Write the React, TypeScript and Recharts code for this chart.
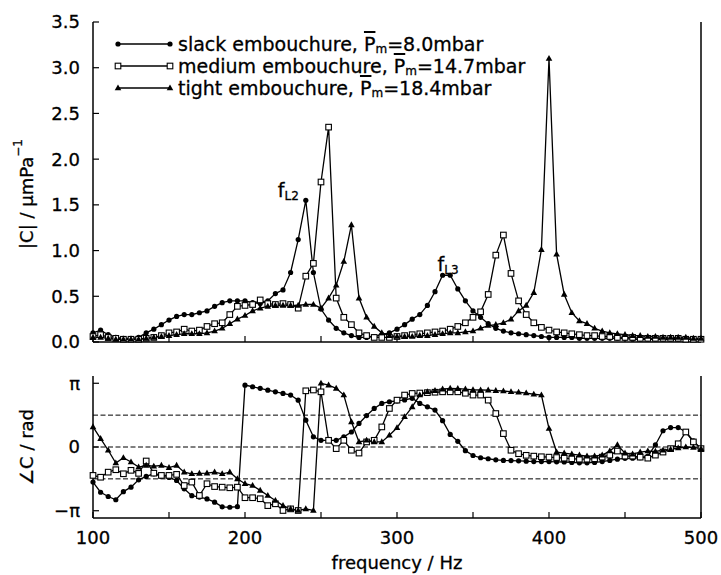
import React from 'react';
import { LineChart, Line, XAxis, YAxis, ReferenceLine, ReferenceDot, Legend, Label } from 'recharts';

// ---------- data ----------
const frequencies = [
  100, 105, 110, 115, 120, 125, 130, 135, 140, 145,
  150, 155, 160, 165, 170, 175, 180, 185, 190, 195,
  200, 205, 210, 215, 220, 225, 230, 235, 240, 245,
  250, 255, 260, 265, 270, 275, 280, 285, 290, 295,
  300, 305, 310, 315, 320, 325, 330, 335, 340, 345,
  350, 355, 360, 365, 370, 375, 380, 385, 390, 395,
  400, 405, 410, 415, 420, 425, 430, 435, 440, 445,
  450, 455, 460, 465, 470, 475, 480, 485, 490, 495,
  500,
];

const slackMag = [
  0.10, 0.13, 0.08, 0.05, 0.04, 0.04, 0.05, 0.10, 0.14, 0.19,
  0.24, 0.28, 0.30, 0.30, 0.32, 0.34, 0.39, 0.43, 0.45, 0.45,
  0.45, 0.43, 0.42, 0.45, 0.53, 0.57, 0.76, 1.12, 1.55, 0.76,
  0.36, 0.24, 0.15, 0.10, 0.07, 0.05, 0.05, 0.06, 0.08, 0.10,
  0.14, 0.19, 0.25, 0.30, 0.40, 0.55, 0.73, 0.73, 0.58, 0.45,
  0.34, 0.27, 0.20, 0.15, 0.12, 0.10, 0.09, 0.08, 0.07, 0.06,
  0.05, 0.05, 0.05, 0.05, 0.04, 0.04, 0.04, 0.04, 0.04, 0.04,
  0.04, 0.03, 0.03, 0.03, 0.03, 0.03, 0.03, 0.03, 0.03, 0.03,
  0.03,
];

const mediumMag = [
  0.06, 0.08, 0.05, 0.04, 0.03, 0.03, 0.03, 0.04, 0.05, 0.07,
  0.10, 0.11, 0.14, 0.12, 0.13, 0.17, 0.20, 0.21, 0.30, 0.39,
  0.40, 0.41, 0.46, 0.42, 0.41, 0.42, 0.41, 0.37, 0.72, 0.86,
  1.75, 2.35, 0.48, 0.27, 0.19, 0.10, 0.07, 0.05, 0.05, 0.05,
  0.06, 0.07, 0.08, 0.09, 0.10, 0.11, 0.12, 0.14, 0.17, 0.21,
  0.27, 0.33, 0.52, 0.95, 1.17, 0.75, 0.45, 0.30, 0.21, 0.16,
  0.13, 0.11, 0.10, 0.09, 0.08, 0.07, 0.07, 0.06, 0.06, 0.05,
  0.05, 0.05, 0.04, 0.04, 0.04, 0.04, 0.04, 0.04, 0.03, 0.03,
  0.03,
];

const tightMag = [
  0.05, 0.05, 0.04, 0.03, 0.03, 0.03, 0.03, 0.04, 0.05, 0.06,
  0.07, 0.08, 0.09, 0.09, 0.09, 0.10, 0.12, 0.15, 0.20, 0.25,
  0.29, 0.34, 0.37, 0.39, 0.40, 0.40, 0.40, 0.40, 0.41, 0.41,
  0.37, 0.48, 0.62, 0.88, 1.28, 0.48, 0.27, 0.17, 0.10, 0.07,
  0.06, 0.06, 0.06, 0.07, 0.07, 0.08, 0.09, 0.10, 0.10, 0.11,
  0.12, 0.15, 0.18, 0.19, 0.21, 0.25, 0.34, 0.40, 0.54, 1.01,
  3.10, 0.96, 0.52, 0.32, 0.23, 0.20, 0.15, 0.12, 0.10, 0.09,
  0.08, 0.07, 0.07, 0.06, 0.06, 0.05, 0.05, 0.05, 0.05, 0.04,
  0.04,
];

const slackPhase = [
  -1.73, -2.23, -2.44, -2.60, -2.20, -1.98, -1.62, -1.45, -1.32, -1.45,
  -1.50, -1.65, -2.06, -2.40, -2.47, -2.56, -2.72, -2.95, -2.97, -2.94,
  3.05, 2.97, 2.89, 2.80, 2.72, 2.64, 2.56, 2.31, 1.32, 0.50,
  0.33, 0.33, 0.33, 0.50, 0.74, 1.16, 1.55, 1.90, 2.15, 2.23,
  2.27, 2.32, 2.40, 2.15, 1.98, 1.82, 1.30, 0.62, 0.28, -0.18,
  -0.42, -0.53, -0.58, -0.63, -0.66, -0.67, -0.68, -0.70, -0.72, -0.72,
  -0.72, -0.73, -0.74, -0.76, -0.78, -0.78, -0.76, -0.72, -0.66, -0.60,
  -0.56, -0.55, -0.53, -0.45, 0.10, 0.80, 0.96, 0.96, 0.74, 0.30,
  -0.08,
];

const mediumPhase = [
  -1.40, -1.49, -1.24, -1.12, -1.32, -1.15, -1.30, -0.69, -1.29, -1.40,
  -1.40, -1.35, -1.90, -1.73, -2.39, -1.81, -1.95, -1.98, -2.01, -1.98,
  -2.50, -2.50, -2.55, -2.89, -2.80, -3.13, -3.05, -3.13, 2.77, 2.81,
  2.72, 0.33, -0.08, 0.33, -0.16, -0.30, 0.25, 0.33, 0.99, 1.90,
  2.31, 2.56, 2.64, 2.66, 2.68, 2.70, 2.72, 2.72, 2.72, 2.65,
  2.56, 2.56, 2.31, 1.65, 0.66, -0.16, -0.33, -0.41, -0.45, -0.48,
  -0.50, -0.52, -0.55, -0.58, -0.60, -0.60, -0.58, -0.50, -0.40, -0.20,
  -0.45, -0.45, -0.50, -0.55, -0.40, -0.25, -0.08, 0.16, 0.74, 0.25,
  -0.08,
];

const tightPhase = [
  0.99, 0.41, -0.16, -0.79, -0.53, -0.74, -0.99, -0.91, -0.95, -0.91,
  -1.02, -0.91, -1.24, -1.32, -1.30, -1.29, -1.24, -1.32, -1.24, -1.57,
  -1.81, -1.90, -2.14, -2.39, -2.64, -2.89, -3.05, -3.13, -3.05, -3.13,
  3.14, 3.05, 2.89, 2.56, 1.24, 0.25, 0.33, 0.25, 0.25, 0.58,
  0.95, 1.49, 1.98, 2.56, 2.72, 2.78, 2.85, 2.89, 2.88, 2.85,
  2.82, 2.81, 2.80, 2.78, 2.76, 2.72, 2.70, 2.66, 2.60, 2.56,
  0.91, -0.25, -0.30, -0.35, -0.40, -0.45, -0.45, -0.40, -0.20, 0.10,
  -0.30, -0.35, -0.25, -0.20, -0.22, -0.16, -0.12, -0.05, 0.00, -0.02,
  -0.08,
];

const seriesKeys = ['slack', 'medium', 'tight'];
const seriesNames = ['slack embouchure', 'medium embouchure', 'tight embouchure'];
const seriesPressures = ['8.0', '14.7', '18.4'];

const freqTicks = [100, 150, 200, 250, 300, 350, 400, 450, 500];
const magTicks = [0, 0.5, 1.0, 1.5, 2.0, 2.5, 3.0, 3.5];
const phaseTicks = [-Math.PI, 0, Math.PI];
const phaseGrid = [-Math.PI / 2, 0, Math.PI / 2];

const peakLabels = [
  { f: 240, v: 1.55, sub: 'L2', dx: -28, dy: -3 },
  { f: 330, v: 0.73, sub: 'L3', dx: -5, dy: -4 },
];

const magData = frequencies.map((f, i) => ({
  f,
  slack: slackMag[i],
  medium: mediumMag[i],
  tight: tightMag[i],
}));
const phaseData = frequencies.map((f, i) => ({
  f,
  slack: slackPhase[i],
  medium: mediumPhase[i],
  tight: tightPhase[i],
}));

// ---------- styling helpers ----------
const FONT = 'DejaVu Sans';
const tickFont = { fill: '#000', fontSize: 18, fontFamily: FONT, stroke: '#000', strokeWidth: 0.3 };

const NoTick = () => <g />;

const markerShape = (key: string, cx: number, cy: number, k: any) => {
  if (key === 'slack') return <circle key={k} cx={cx} cy={cy} r={2.6} fill="#000" />;
  if (key === 'medium')
    return (
      <rect key={k} x={cx - 2.8} y={cy - 2.8} width={5.6} height={5.6} fill="#fff" stroke="#000" strokeWidth={1.1} />
    );
  return (
    <polygon
      key={k}
      points={`${cx},${cy - 3.6} ${cx - 3.3},${cy + 2.3} ${cx + 3.3},${cy + 2.3}`}
      fill="#000"
    />
  );
};

const makeDot = (key: string) => (p: any) => {
  if (p.cx == null || p.cy == null) return <g key={`d-${key}-${p.index}`} />;
  return markerShape(key, p.cx, p.cy, `d-${key}-${p.index}`);
};

const LegendContent = (props: any) => {
  const payload = [...(props.payload || [])].sort(
    (a: any, b: any) => seriesKeys.indexOf(a.dataKey) - seriesKeys.indexOf(b.dataKey)
  );
  return (
    <div style={{ fontFamily: FONT, fontSize: 19, color: '#000', WebkitTextStroke: '0.3px #000' }}>
      {payload.map((item: any, i: number) => {
        const idx = seriesKeys.indexOf(item.dataKey);
        return (
          <div
            key={i}
            style={{ display: 'flex', alignItems: 'center', height: 22, lineHeight: '22px', whiteSpace: 'nowrap' }}
          >
            <svg width={64} height={12} style={{ display: 'block', flex: 'none' }}>
              <line x1={4} x2={56} y1={6} y2={6} stroke="#000" strokeWidth={1.3} />
              {markerShape(item.dataKey, 4, 6, 'a')}
              {markerShape(item.dataKey, 56, 6, 'b')}
            </svg>
            <span>
              {seriesNames[idx]},{' '}
              <span style={{ textDecoration: 'overline', textDecorationThickness: '1.5px' }}>P</span>
              <span
                style={{
                  fontSize: 12,
                  lineHeight: '8px',
                  display: 'inline-block',
                  position: 'relative',
                  top: 2,
                }}
              >
                m
              </span>
              ={seriesPressures[idx]}mbar
            </span>
          </div>
        );
      })}
    </div>
  );
};

const PeakLabel = (dx: number, dy: number, sub: string) => (props: any) => {
  const vb = props.viewBox || {};
  const x = (vb.x || 0) + (vb.width || 0) / 2 + dx;
  const y = (vb.y || 0) + (vb.height || 0) / 2 + dy;
  return (
    <text x={x} y={y} fontFamily={FONT} fontSize={19} fill="#000" stroke="#000" strokeWidth={0.3}>
      f
      <tspan fontSize={12} dy={3} fill="#000">
        {sub}
      </tspan>
    </text>
  );
};

const TopYLabel = (props: any) => {
  const vb = props.viewBox || {};
  const cx = 26;
  const cy = (vb.y || 0) + (vb.height || 0) / 2 + 12;
  return (
    <text
      x={cx}
      y={cy}
      transform={`rotate(-90 ${cx} ${cy})`}
      textAnchor="middle"
      dominantBaseline="central"
      fontFamily={FONT}
      fontSize={18}
      fill="#000"
      stroke="#000"
      strokeWidth={0.3}
    >
      |C| / µmPa
      <tspan fontSize={12} dy={-8}>
        −1
      </tspan>
    </text>
  );
};

const BottomYLabel = (props: any) => {
  const vb = props.viewBox || {};
  const cx = 26;
  const cy = (vb.y || 0) + (vb.height || 0) / 2;
  return (
    <text
      x={cx}
      y={cy}
      transform={`rotate(-90 ${cx} ${cy})`}
      textAnchor="middle"
      dominantBaseline="central"
      fontFamily={FONT}
      fontSize={18}
      fill="#000"
      stroke="#000"
      strokeWidth={0.3}
    >
      ∠C / rad
    </text>
  );
};

const XLabel = (props: any) => {
  const vb = props.viewBox || {};
  const cx = (vb.x || 0) + (vb.width || 0) / 2;
  return (
    <text
      x={cx}
      y={(vb.y || 0) + 51}
      textAnchor="middle"
      fontFamily={FONT}
      fontSize={18}
      fill="#000"
      stroke="#000"
      strokeWidth={0.3}
    >
      frequency / Hz
    </text>
  );
};

const axisLine = { stroke: '#000', strokeWidth: 1.5 };
const tickLine = { stroke: '#000', strokeWidth: 1.2 };

const phaseFmt = (v: number) => (v > 0.1 ? 'π' : v < -0.1 ? '−π' : '0');

export default function App() {
  return (
    <div style={{ position: 'absolute', left: 0, top: 0, width: 721, height: 575, background: '#fff' }}>
      <div style={{ position: 'absolute', left: 0, top: 0 }}>
        <LineChart width={721} height={362} data={magData} margin={{ top: 22, right: 0, bottom: 0, left: 0 }}>
          <XAxis
            xAxisId="b"
            dataKey="f"
            type="number"
            domain={[100, 500]}
            ticks={freqTicks}
            interval={0}
            orientation="bottom"
            height={20}
            tickSize={-6}
            tick={NoTick}
            axisLine={axisLine}
            tickLine={tickLine}
          />
          <XAxis
            xAxisId="t"
            dataKey="f"
            type="number"
            domain={[100, 500]}
            ticks={freqTicks}
            interval={0}
            orientation="top"
            height={0}
            tickSize={-6}
            tick={NoTick}
            axisLine={axisLine}
            tickLine={tickLine}
          />
          <YAxis
            yAxisId="l"
            type="number"
            domain={[0, 3.5]}
            ticks={magTicks}
            interval={0}
            width={93}
            tickSize={-6}
            tickMargin={19}
            tick={tickFont}
            tickFormatter={(v: number) => v.toFixed(1)}
            axisLine={axisLine}
            tickLine={tickLine}
          >
            <Label content={TopYLabel} />
          </YAxis>
          <YAxis
            yAxisId="r"
            orientation="right"
            type="number"
            domain={[0, 3.5]}
            ticks={magTicks}
            interval={0}
            width={20}
            tickSize={-6}
            tick={NoTick}
            axisLine={axisLine}
            tickLine={tickLine}
          />
          <Legend
            layout="vertical"
            align="center"
            verticalAlign="middle"
            content={LegendContent}
            wrapperStyle={{ position: 'absolute', left: 114, top: 33, width: 'auto', height: 'auto' }}
          />
          {seriesKeys.map((k, i) => (
            <Line
              key={k}
              xAxisId="b"
              yAxisId="l"
              dataKey={k}
              name={seriesNames[i]}
              stroke="#000"
              strokeWidth={1.3}
              dot={makeDot(k)}
              activeDot={false}
              isAnimationActive={false}
            />
          ))}
          {peakLabels.map((p, i) => (
            <ReferenceDot
              key={i}
              xAxisId="b"
              yAxisId="l"
              x={p.f}
              y={p.v}
              r={0}
              fill="none"
              stroke="none"
              label={{ content: PeakLabel(p.dx, p.dy, p.sub) } as any}
            />
          ))}
        </LineChart>
      </div>
      <div style={{ position: 'absolute', left: 0, top: 360 }}>
        <LineChart width={721} height={215} data={phaseData} margin={{ top: 16, right: 0, bottom: 0, left: 0 }}>
          <XAxis
            xAxisId="b"
            dataKey="f"
            type="number"
            domain={[100, 500]}
            ticks={freqTicks}
            interval={0}
            orientation="bottom"
            height={57}
            tickSize={-6}
            tickMargin={19}
            tick={tickFont}
            tickFormatter={(v: number) => (v % 100 === 0 ? String(v) : '')}
            axisLine={axisLine}
            tickLine={tickLine}
          >
            <Label content={XLabel} />
          </XAxis>
          <XAxis
            xAxisId="t"
            dataKey="f"
            type="number"
            domain={[100, 500]}
            ticks={freqTicks}
            interval={0}
            orientation="top"
            height={0}
            tickSize={-6}
            tick={NoTick}
            axisLine={axisLine}
            tickLine={tickLine}
          />
          <YAxis
            yAxisId="l"
            type="number"
            domain={[-3.5, 3.5]}
            ticks={phaseTicks}
            interval={0}
            width={93}
            tickSize={-6}
            tickMargin={19}
            tick={tickFont}
            tickFormatter={phaseFmt}
            axisLine={axisLine}
            tickLine={tickLine}
          >
            <Label content={BottomYLabel} />
          </YAxis>
          <YAxis
            yAxisId="r"
            orientation="right"
            type="number"
            domain={[-3.5, 3.5]}
            ticks={phaseTicks}
            interval={0}
            width={20}
            tickSize={-6}
            tick={NoTick}
            axisLine={axisLine}
            tickLine={tickLine}
          />
          {phaseGrid.map((g, i) => (
            <ReferenceLine
              key={i}
              xAxisId="b"
              yAxisId="l"
              y={g}
              stroke="#000"
              strokeWidth={1}
              strokeDasharray="5 2.5"
            />
          ))}
          {seriesKeys.map((k, i) => (
            <Line
              key={k}
              xAxisId="b"
              yAxisId="l"
              dataKey={k}
              name={seriesNames[i]}
              stroke="#000"
              strokeWidth={1.3}
              dot={makeDot(k)}
              activeDot={false}
              isAnimationActive={false}
            />
          ))}
        </LineChart>
      </div>
    </div>
  );
}
